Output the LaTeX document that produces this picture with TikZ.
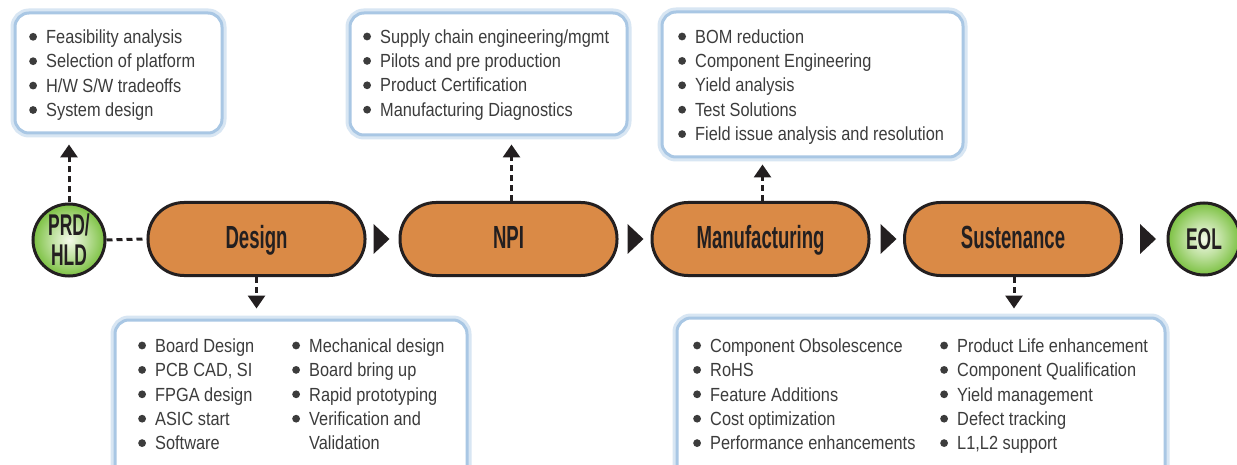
\documentclass[tikz,border=0pt]{standalone}
\usepackage{fontspec}
\setmainfont{Liberation Sans}
\newfontfamily\bodyf[FakeStretch=0.86]{Liberation Sans}
\newfontfamily\labf[FakeStretch=0.58]{Liberation Sans}
\usetikzlibrary{arrows.meta,calc}
\definecolor{pillor}{HTML}{DA8A46}
\definecolor{edgec}{HTML}{231F20}
\definecolor{txt}{HTML}{3C3C3C}
\definecolor{glowA}{HTML}{A9C7E4}
\definecolor{glowB}{HTML}{D8E6F3}
\definecolor{gIn}{HTML}{F4FAEA}
\definecolor{gOut}{HTML}{7CC142}
\pgfdeclareradialshading{ballg}{\pgfpoint{0bp}{0bp}}{color(0bp)=(gIn); color(12bp)=(gIn!55!gOut); color(25bp)=(gOut); color(50bp)=(gOut)}
\newcommand\bl{\makebox[17pt][l]{\raisebox{2.8pt}{\tikz\fill[txt] (0,0) circle (3.9pt);}}}
\newcommand\fs{\rule{0pt}{14pt}}
\tikzset{
  pill/.style={rectangle, rounded corners=36pt, minimum width=217pt, minimum height=73pt,
    fill=pillor, draw=edgec, line width=3pt, text=edgec, text height=22pt, text depth=4pt,
    font=\labf\bfseries\fontsize{32}{32}\selectfont},
  ball/.style={circle, minimum size=72pt, inner sep=0pt, draw=edgec, line width=3pt,
    shading=ballg, text=edgec, align=center,
    font=\labf\bfseries\fontsize{30}{30}\selectfont},
  infobox/.style={rectangle, rounded corners=14pt, fill=white, draw=glowA, line width=3pt,
    inner sep=0pt, preaction={draw=glowB, line width=9pt}},
  btext/.style={anchor=north west, inner sep=0pt, align=left, text=txt,
    font=\bodyf\fontsize{19}{24.4}\selectfont},
  conn/.style={draw=edgec, line width=3pt, dash pattern=on 6pt off 4pt},
  arr/.style={conn, -{Triangle[width=17pt,length=13pt]}},
  tri/.style={fill=edgec}
}
\begin{document}
\begin{tikzpicture}[x=1pt,y=-1pt]
\useasboundingbox (0,0) rectangle (1237,465);
\clip (0,0) rectangle (1237,465);
\fill[white] (0,0) rectangle (1237,465);

% info boxes
\node[infobox, minimum width=207pt, minimum height=120pt] (b1) at (118.5,73) {};
\node[infobox, minimum width=277pt, minimum height=122pt] (b2) at (488.5,74) {};
\node[infobox, minimum width=301pt, minimum height=145pt] (b3) at (812.5,84.5) {};
\node[infobox, minimum width=352pt, minimum height=170pt] (b4) at (291,405) {};
\node[infobox, minimum width=488pt, minimum height=170pt] (b5) at (921,403) {};

% box texts
\node[btext] (t1) at (29,29.3) {\fs\bl Feasibility analysis\\\bl Selection of platform\\\bl H/W S/W tradeoffs\\\bl System design};
\node[btext] (t2) at (363,29) {\fs\bl Supply chain engineering/mgmt\\\bl Pilots and pre production\\\bl Product Certification\\\bl Manufacturing Diagnostics};
\node[btext] (t3) at (678,29) {\fs\bl BOM reduction\\\bl Component Engineering\\\bl Yield analysis\\\bl Test Solutions\\\bl Field issue analysis and resolution};
\node[btext] (t4a) at (138,338) {\fs\bl Board Design\\\bl PCB CAD, SI\\\bl FPGA design\\\bl ASIC start\\\bl Software};
\node[btext] (t4b) at (292,338) {\fs\bl Mechanical design\\\bl Board bring up\\\bl Rapid prototyping\\\bl Verification and\\\hphantom{\bl}Validation};
\node[btext] (t5a) at (693,338) {\fs\bl Component Obsolescence\\\bl RoHS\\\bl Feature Additions\\\bl Cost optimization\\\bl Performance enhancements};
\node[btext] (t5b) at (940,338) {\fs\bl Product Life enhancement\\\bl Component Qualification\\\bl Yield management\\\bl Defect tracking\\\bl L1,L2 support};

% main flow
\node[ball] (prd) at (69,240) {PRD/\\HLD};
\node[pill] (design) at (256.5,239) {Design};
\node[pill] (npi) at (508.5,239) {NPI};
\node[pill] (mfg) at (760.5,239) {Manufacturing};
\node[pill] (sust) at (1013,239) {Sustenance};
\node[ball] (eol) at (1204,239) {EOL};

% flow triangles
\fill[tri] ($(design.east)+(7,-15)$) -- ++(16,15) -- ++(-16,15) -- cycle;
\fill[tri] ($(npi.east)+(9,-15)$) -- ++(16,15) -- ++(-16,15) -- cycle;
\fill[tri] ($(mfg.east)+(10,-15)$) -- ++(16,15) -- ++(-16,15) -- cycle;
\fill[tri] ($(sust.east)+(17,-15)$) -- ++(16,15) -- ++(-16,15) -- cycle;

% connectors
\draw[conn] (prd.east) -- (design.west);
\draw[arr, shorten >=10pt] (prd.north) -- (prd.north |- b1.south);
\draw[arr, shorten >=8pt] ([xshift=3pt]npi.north) -- ([xshift=3pt]npi.north |- b2.south);
\draw[arr, shorten >=6pt] ([xshift=2pt]mfg.north) -- ([xshift=2pt]mfg.north |- b3.south);
\draw[arr, shorten >=10pt] (design.south) -- (design.south |- b4.north);
\draw[arr, shorten >=8pt] ([xshift=1pt]sust.south) -- ([xshift=1pt]sust.south |- b5.north);
\end{tikzpicture}
\end{document}
